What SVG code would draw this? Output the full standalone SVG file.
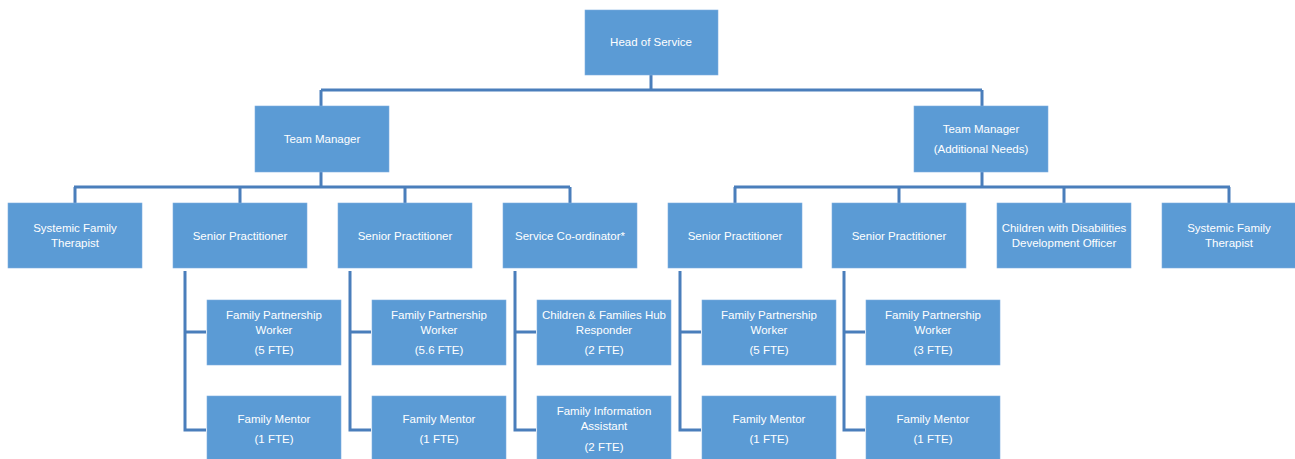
<svg xmlns="http://www.w3.org/2000/svg" width="1295" height="459" viewBox="0 0 1295 459">
<style>
.b{fill:#5B9BD5;stroke:#7FB0E0;stroke-width:0.6}
.t{font-family:"Liberation Sans",Arial,sans-serif;font-size:11.5px;fill:#FFFFFF;text-anchor:middle}
.c{fill:none;stroke:#4A7EBB;stroke-width:3}
</style>
<rect width="1295" height="459" fill="#FFFFFF"/>
<g id="connectors">
<path class="c" d="M651 75V90M321 90H982M321 90V106M982 90V106"/>
<path class="c" d="M321 172V187M74 187H570M75 187V203M240 187V203M405 187V203M570 187V203"/>
<path class="c" d="M982 172V187M734 187H1230M735 187V203M899 187V203M1064 187V203M1229 187V203"/>
<path class="c" d="M185 271V430H206M185 332H206"/>
<path class="c" d="M350 271V430H371M350 332H371"/>
<path class="c" d="M515 271V430H536M515 332H536"/>
<path class="c" d="M680 271V430H701M680 332H701"/>
<path class="c" d="M844 271V430H865M844 332H865"/>
</g>
<g id="head"><rect class="b" x="585" y="10" width="133" height="65"/><text class="t" x="651" y="46">Head of Service</text></g>
<g id="tm1"><rect class="b" x="255" y="106" width="134" height="66"/><text class="t" x="322" y="143">Team Manager</text></g>
<g id="tm2"><rect class="b" x="914" y="106" width="134" height="66"/><text class="t" x="981" y="133">Team Manager</text><text class="t" x="981" y="153">(Additional Needs)</text></g>
<g id="sft1"><rect class="b" x="8" y="203" width="134" height="65"/><text class="t" x="75" y="232">Systemic Family</text><text class="t" x="75" y="247">Therapist</text></g>
<g id="sp1"><rect class="b" x="173" y="203" width="134" height="65"/><text class="t" x="240" y="240">Senior Practitioner</text></g>
<g id="sp2"><rect class="b" x="338" y="203" width="134" height="65"/><text class="t" x="405" y="240">Senior Practitioner</text></g>
<g id="sc"><rect class="b" x="503" y="203" width="134" height="65"/><text class="t" x="570" y="240">Service Co-ordinator*</text></g>
<g id="sp3"><rect class="b" x="668" y="203" width="134" height="65"/><text class="t" x="735" y="240">Senior Practitioner</text></g>
<g id="sp4"><rect class="b" x="832" y="203" width="134" height="65"/><text class="t" x="899" y="240">Senior Practitioner</text></g>
<g id="cwd"><rect class="b" x="997" y="203" width="134" height="65"/><text class="t" x="1064" y="232">Children with Disabilities</text><text class="t" x="1064" y="247">Development Officer</text></g>
<g id="sft2"><rect class="b" x="1162" y="203" width="134" height="65"/><text class="t" x="1229" y="232">Systemic Family</text><text class="t" x="1229" y="247">Therapist</text></g>
<g id="fpw1"><rect class="b" x="207" y="300" width="134" height="65"/><text class="t" x="274" y="319">Family Partnership</text><text class="t" x="274" y="334">Worker</text><text class="t" x="274" y="354">(5 FTE)</text></g>
<g id="fm1"><rect class="b" x="207" y="396" width="134" height="65"/><text class="t" x="274" y="423">Family Mentor</text><text class="t" x="274" y="443">(1 FTE)</text></g>
<g id="fpw2"><rect class="b" x="372" y="300" width="134" height="65"/><text class="t" x="439" y="319">Family Partnership</text><text class="t" x="439" y="334">Worker</text><text class="t" x="439" y="354">(5.6 FTE)</text></g>
<g id="fm2"><rect class="b" x="372" y="396" width="134" height="65"/><text class="t" x="439" y="423">Family Mentor</text><text class="t" x="439" y="443">(1 FTE)</text></g>
<g id="cfh"><rect class="b" x="537" y="300" width="134" height="65"/><text class="t" x="604" y="319">Children &amp; Families Hub</text><text class="t" x="604" y="334">Responder</text><text class="t" x="604" y="354">(2 FTE)</text></g>
<g id="fia"><rect class="b" x="537" y="396" width="134" height="65"/><text class="t" x="604" y="415">Family Information</text><text class="t" x="604" y="430">Assistant</text><text class="t" x="604" y="451">(2 FTE)</text></g>
<g id="fpw3"><rect class="b" x="702" y="300" width="134" height="65"/><text class="t" x="769" y="319">Family Partnership</text><text class="t" x="769" y="334">Worker</text><text class="t" x="769" y="354">(5 FTE)</text></g>
<g id="fm3"><rect class="b" x="702" y="396" width="134" height="65"/><text class="t" x="769" y="423">Family Mentor</text><text class="t" x="769" y="443">(1 FTE)</text></g>
<g id="fpw4"><rect class="b" x="866" y="300" width="134" height="65"/><text class="t" x="933" y="319">Family Partnership</text><text class="t" x="933" y="334">Worker</text><text class="t" x="933" y="354">(3 FTE)</text></g>
<g id="fm4"><rect class="b" x="866" y="396" width="134" height="65"/><text class="t" x="933" y="423">Family Mentor</text><text class="t" x="933" y="443">(1 FTE)</text></g>
</svg>
